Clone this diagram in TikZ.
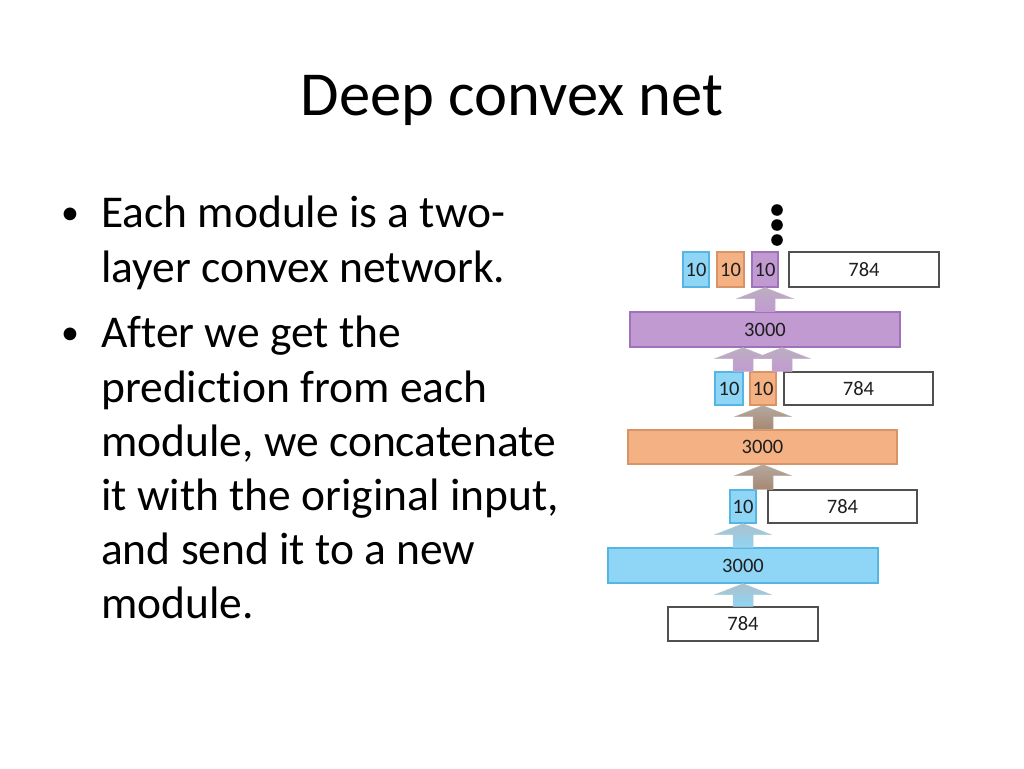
\documentclass[tikz,border=0pt]{standalone}
\usepackage{fontspec}
\setmainfont{Carlito}[Ligatures=NoCommon]
\usetikzlibrary{calc}
\definecolor{cblue}{HTML}{8FD5F5}
\definecolor{cbluedk}{HTML}{55B6E4}
\definecolor{corange}{HTML}{F4B183}
\definecolor{corangedk}{HTML}{D99466}
\definecolor{cpurple}{HTML}{C29AD2}
\definecolor{cpurpledk}{HTML}{9F72BC}
\definecolor{cbrown}{HTML}{A88870}
\definecolor{txt}{HTML}{1E1E1E}
\definecolor{wbord}{HTML}{505050}
\newcommand\blockup[3]{%
  \path[draw=#3!70!black!50, line width=0.5pt, top color=#3!45!gray!70!white, bottom color=#3]
   let \p1=(#1), \p2=(#2) in
   (\x1-10pt,\y1) -- (\x1-10pt,\y2-11pt) -- (\x1-28pt,\y2-11pt) -- (\x1,\y2) -- (\x1+28pt,\y2-11pt) -- (\x1+10pt,\y2-11pt) -- (\x1+10pt,\y1) -- cycle;}
\begin{document}
\begin{tikzpicture}[x=1pt,y=-1pt,
  lay/.style={inner sep=0pt, font=\fontsize{20.5}{23}\selectfont, text=txt, line width=1.3pt},
  bluebox/.style={lay, fill=cblue, draw=cbluedk},
  orangebox/.style={lay, fill=corange, draw=corangedk},
  purplebox/.style={lay, fill=cpurple, draw=cpurpledk},
  whitebox/.style={lay, fill=white, draw=wbord},
  small/.style={minimum width=26pt, minimum height=34pt},
  wide/.style={minimum width=150pt, minimum height=34pt},
  hidden/.style={minimum width=270pt, minimum height=35pt},
  bodyline/.style={inner sep=0pt, anchor=base west, font=\fontsize{45.5}{54.6}\selectfont},
  bullet/.style={inner sep=0pt, anchor=base, font=\fontsize{36}{40}\selectfont},
  dot/.style={fill=black, draw=none}]
\useasboundingbox[fill=white] (0,0) rectangle (1024,768);

% title
\node[inner sep=0pt, anchor=base, font=\fontsize{62.6}{75}\selectfont] (title) at (512,115) {Deep convex net};

% bullets
\node[bullet] (b1) at (70,224) {•};
\node[bullet] (b2) at (70,344) {•};
\node[bodyline] (l1) at (101,227) {Each module is a two-};
\node[bodyline] (l2) at (101,282) {layer convex network.};
\node[bodyline] (l3) at (101,347) {After we get the};
\node[bodyline] (l4) at (101,402) {prediction from each};
\node[bodyline] (l5) at (101,456.5) {module, we concatenate};
\node[bodyline] (l6) at (101,510.5) {it with the original input,};
\node[bodyline] (l7) at (101,564.5) {and send it to a new};
\node[bodyline] (l8) at (101,618.5) {module.};

% module 1
\node[whitebox, wide] (in) at (743,624) {784};
\node[bluebox, hidden] (h1) at (743,565.5) {3000};
\node[bluebox, small, minimum height=33pt] (o1a) at (743,506.5) {10};
\node[whitebox, wide, minimum width=149pt, minimum height=33pt] (x1) at (842.5,506.5) {784};

% module 2
\node[orangebox, hidden, minimum width=269pt, minimum height=34pt] (h2) at (762.5,447) {3000};
\node[bluebox, small, minimum width=28pt, minimum height=33pt] (o2a) at (729,388.5) {10};
\node[orangebox, small, minimum height=33pt] (o2b) at (763,388.5) {10};
\node[whitebox, wide, minimum width=149pt, minimum height=33pt] (x2) at (858.5,388.5) {784};

% module 3
\node[purplebox, hidden] (h3) at (765,329.5) {3000};
\node[bluebox, small, minimum height=35pt] (o3a) at (696,269.5) {10};
\node[orangebox, small, minimum width=27pt, minimum height=35pt] (o3b) at (730.5,269.5) {10};
\node[purplebox, small, minimum height=35pt] (o3c) at (765,269.5) {10};
\node[whitebox, wide, minimum height=35pt] (x3) at (864,269.5) {784};

% arrows
\blockup{743,0 |- in.north}{743,0 |- h1.south}{cblue}
\blockup{743,0 |- h1.north}{743,0 |- o1a.south}{cblue}
\blockup{763,0 |- x1.north}{763,0 |- h2.south}{cbrown}
\blockup{763,0 |- h2.north}{763,0 |- o2b.south}{cbrown}
\blockup{743,0 |- o2a.north}{743,0 |- h3.south}{cpurple}
\blockup{782,0 |- x2.north}{782,0 |- h3.south}{cpurple}
\blockup{765,0 |- h3.north}{765,0 |- o3c.south}{cpurple}

% dots
\fill[dot] (777,210) circle (5.8);
\fill[dot] (777,225) circle (5.8);
\fill[dot] (777,240) circle (5.8);
\end{tikzpicture}
\end{document}
